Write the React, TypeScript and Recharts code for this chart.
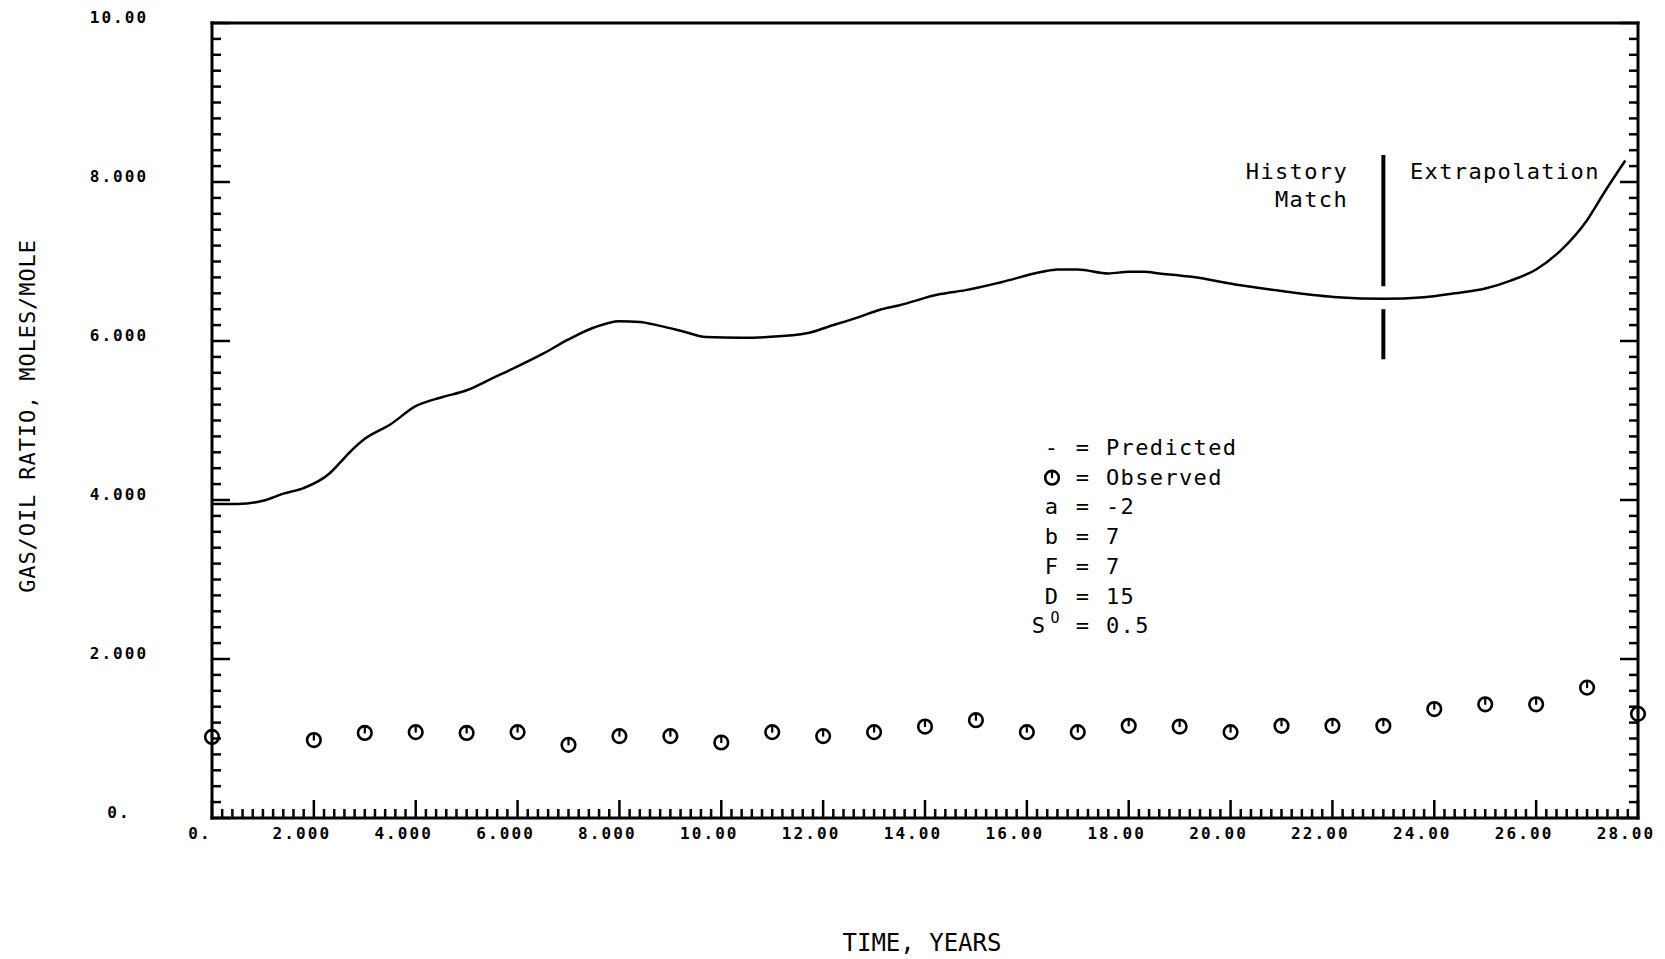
import React from "react";
import { ComposedChart, Line, Scatter, XAxis, YAxis, ReferenceLine } from "recharts";

const W = 1665;
const H = 959;

// predicted gas/oil ratio (solid curve)
const predTime = [
  0, 0.5, 1.0, 1.4, 1.8, 2.3, 2.5, 2.75, 3.0, 3.5, 4.0, 4.5, 5.0, 5.5, 6.0, 6.5, 7.0, 7.5, 8.0, 8.4,
  8.8, 9.2, 9.7, 10.4, 10.9, 11.7, 12.1, 12.7, 13.1, 13.5, 14.3, 14.8, 15.5, 16.3, 16.6, 17.0, 17.6,
  18.0, 18.3, 18.6, 19.2, 20.2, 21.1, 22.1, 23.0, 23.8, 24.4, 25.0, 25.5, 26.0, 26.5, 27.0, 27.35,
  27.75,
];
const predGor = [
  3.95, 3.95, 3.99, 4.08, 4.15, 4.33, 4.46, 4.63, 4.77, 4.95, 5.18, 5.29, 5.38, 5.53, 5.68, 5.84,
  6.02, 6.17, 6.25, 6.24, 6.19, 6.13, 6.05, 6.04, 6.05, 6.1, 6.18, 6.3, 6.39, 6.45, 6.59, 6.64, 6.74,
  6.87, 6.9, 6.9, 6.85, 6.87, 6.87, 6.85, 6.81, 6.7, 6.62, 6.55, 6.53, 6.55, 6.6, 6.66, 6.76, 6.9,
  7.15, 7.52, 7.88, 8.27,
];

// observed points
const obsTime = [0, 2, 3, 4, 5, 6, 7, 8, 9, 10, 11, 12, 13, 14, 15, 16, 17, 18, 19, 20, 21, 22, 23, 24, 25, 26, 27, 28];
const obsGor = [
  1.02, 0.98, 1.07, 1.08, 1.07, 1.08, 0.92, 1.03, 1.03, 0.95, 1.08, 1.03, 1.08, 1.15, 1.23, 1.08,
  1.08, 1.16, 1.15, 1.08, 1.16, 1.16, 1.16, 1.37, 1.43, 1.43, 1.64, 1.31,
];

const xMajorLabels = ["0.", "2.000", "4.000", "6.000", "8.000", "10.00", "12.00", "14.00", "16.00", "18.00", "20.00", "22.00", "24.00", "26.00", "28.00"];
const yMajorLabels = ["0.", "2.000", "4.000", "6.000", "8.000", "10.00"];

// history match / extrapolation divider
const splitTime = 23;
const splitUpper = [8.34, 6.69];
const splitLower = [6.4, 5.77];

const legendSymbols = ["-", "o", "a", "b", "F", "D", "S"];
const legendTexts = ["Predicted", "Observed", "-2", "7", "7", "15", "0.5"];

const xTicks = Array.from({ length: 141 }, (_, i) => i / 5);
const yTicks = Array.from({ length: 51 }, (_, i) => i / 5);

const predData = predTime.map((t, i) => ({ t, v: predGor[i] }));
const obsData = obsTime.map((t, i) => ({ t, v: obsGor[i] }));

const mono = "'DejaVu Sans Mono', monospace";
const tickFont: React.CSSProperties = { fontFamily: mono, fontWeight: 700, fontSize: 16, letterSpacing: 2.1 };
const textFont: React.CSSProperties = { fontFamily: mono, fontSize: 22, letterSpacing: 1.35 };

const tickLen = (v: number) => (Math.round(v * 5) % 10 === 0 ? 18 : 9);

function BottomTick({ x, y, payload }: any) {
  const i = Math.round(payload.value * 5);
  const major = i % 10 === 0;
  return (
    <g>
      <line x1={x} y1={y} x2={x} y2={y - tickLen(payload.value)} stroke="#000" strokeWidth={2.5} />
      {major && (
        <text x={x - 12} y={y + 15} textAnchor="middle" dominantBaseline="central" fill="#000" style={tickFont}>
          {xMajorLabels[i / 10]}
        </text>
      )}
    </g>
  );
}

function LeftTick({ x, y, payload }: any) {
  const i = Math.round(payload.value * 5);
  const major = i % 10 === 0;
  return (
    <g>
      <line x1={x} y1={y} x2={x + tickLen(payload.value)} y2={y} stroke="#000" strokeWidth={2.5} />
      {major && (
        <text x={x - 93} y={y - 6} textAnchor="middle" dominantBaseline="central" fill="#000" style={tickFont}>
          {yMajorLabels[i / 10]}
        </text>
      )}
    </g>
  );
}

function TopTick({ x, y, payload }: any) {
  return <line x1={x} y1={y} x2={x} y2={y + tickLen(payload.value)} stroke="#000" strokeWidth={2.5} />;
}

function RightTick({ x, y, payload }: any) {
  return <line x1={x} y1={y} x2={x - tickLen(payload.value)} y2={y} stroke="#000" strokeWidth={2.5} />;
}

function ObsMark({ cx, cy }: any) {
  return (
    <g>
      <circle cx={cx} cy={cy} r={6.8} fill="none" stroke="#000" strokeWidth={2.6} />
      <line x1={cx} y1={cy - 6.8} x2={cx} y2={cy + 0.5} stroke="#000" strokeWidth={2.2} />
    </g>
  );
}

export default function App() {
  const frame = { stroke: "#000", strokeWidth: 3, strokeLinecap: "square" as const };
  return (
    <div style={{ position: "absolute", left: 0, top: 0, width: W, height: H, background: "#fff" }}>
      <ComposedChart width={W} height={H} margin={{ top: 13, right: 17, bottom: 81, left: 62 }}>
        <XAxis
          dataKey="t"
          type="number"
          domain={[0, 28]}
          ticks={xTicks}
          interval={0}
          height={60}
          tickSize={0}
          tickMargin={0}
          axisLine={frame}
          tickLine={false}
          tick={(p: any) => <BottomTick {...p} />}
        />
        <XAxis
          xAxisId="top"
          orientation="top"
          type="number"
          domain={[0, 28]}
          allowDataOverflow
          ticks={xTicks}
          interval={0}
          height={10}
          tickSize={0}
          tickMargin={0}
          axisLine={frame}
          tickLine={false}
          tick={(p: any) => <TopTick {...p} />}
        />
        <YAxis
          type="number"
          domain={[0, 10]}
          ticks={yTicks}
          interval={0}
          width={150}
          tickSize={0}
          tickMargin={0}
          axisLine={frame}
          tickLine={false}
          tick={(p: any) => <LeftTick {...p} />}
        />
        <YAxis
          yAxisId="right"
          orientation="right"
          type="number"
          domain={[0, 10]}
          allowDataOverflow
          ticks={yTicks}
          interval={0}
          width={10}
          tickSize={0}
          tickMargin={0}
          axisLine={frame}
          tickLine={false}
          tick={(p: any) => <RightTick {...p} />}
        />
        <ReferenceLine
          segment={[{ x: splitTime, y: splitUpper[0] }, { x: splitTime, y: splitUpper[1] }]}
          stroke="#000"
          strokeWidth={4}
        />
        <ReferenceLine
          segment={[{ x: splitTime, y: splitLower[0] }, { x: splitTime, y: splitLower[1] }]}
          stroke="#000"
          strokeWidth={4}
        />
        <Line
          data={predData}
          dataKey="v"
          type="monotone"
          stroke="#000"
          strokeWidth={2.5}
          dot={false}
          activeDot={false}
          isAnimationActive={false}
        />
        <Scatter data={obsData} dataKey="v" shape={(p: any) => <ObsMark {...p} />} isAnimationActive={false} />
      </ComposedChart>

      {/* labels and annotations */}
      <svg width={W} height={H} style={{ position: "absolute", left: 0, top: 0, pointerEvents: "none" }}>
        <text
          x={27}
          y={416}
          transform="rotate(-90 27 416)"
          textAnchor="middle"
          dominantBaseline="central"
          fill="#000"
          style={{ fontFamily: mono, fontSize: 22, letterSpacing: 0.9 }}
        >
          GAS/OIL RATIO, MOLES/MOLE
        </text>
        <text x={922} y={943} textAnchor="middle" dominantBaseline="central" fill="#000" style={{ fontFamily: mono, fontSize: 24 }}>
          TIME, YEARS
        </text>

        <text x={1348} y={179} textAnchor="end" fill="#000" style={textFont}>History</text>
        <text x={1348} y={207} textAnchor="end" fill="#000" style={textFont}>Match</text>
        <text x={1410} y={179} fill="#000" style={textFont}>Extrapolation</text>

        {legendSymbols.map((s, i) => {
          const by = 455 + i * 29.7;
          let sym: React.ReactNode;
          if (s === "o") {
            sym = <ObsMark cx={1052} cy={by - 7} />;
          } else if (s === "S") {
            sym = (
              <g>
                <text x={1039} y={by} textAnchor="middle" fill="#000" style={textFont}>S</text>
                <text x={1055} y={by - 10} textAnchor="middle" fill="#000" style={{ fontFamily: mono, fontSize: 15 }}>O</text>
              </g>
            );
          } else {
            sym = (
              <text x={1052} y={by} textAnchor="middle" fill="#000" style={textFont}>{s}</text>
            );
          }
          return (
            <g key={i}>
              {sym}
              <text x={1083} y={by} textAnchor="middle" fill="#000" style={textFont}>=</text>
              <text x={1106} y={by} fill="#000" style={textFont}>{legendTexts[i]}</text>
            </g>
          );
        })}
      </svg>
    </div>
  );
}
